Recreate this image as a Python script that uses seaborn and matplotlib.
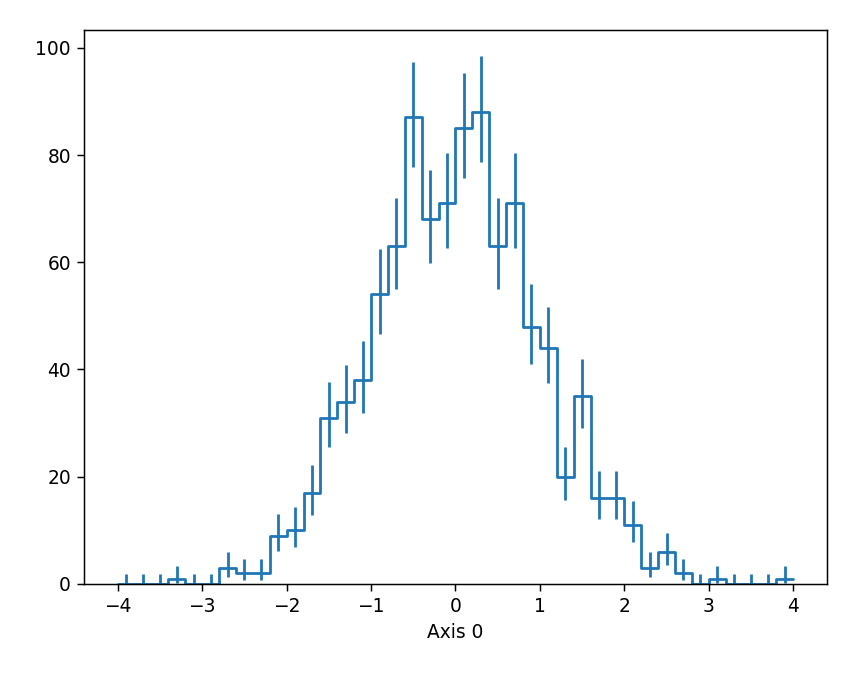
import matplotlib
matplotlib.use("Agg")
import matplotlib.pyplot as plt
import seaborn as sns
import numpy as np
import math

# histogram: 40 bins of width 0.2 from -4 to 4
edges = np.linspace(-4, 4, 41)
counts = [0, 0, 0, 1, 0, 0, 3, 2, 2, 9,
          10, 17, 31, 34, 38, 54, 63, 87, 68, 71,
          85, 88, 63, 71, 48, 44, 20, 35, 16, 16,
          11, 3, 6, 2, 0, 1, 0, 0, 0, 1]
xlabel = "Axis 0"


def pois_cdf(k, mu):
    if k < 0:
        return 0.0
    s, term = 0.0, math.exp(-mu)
    for i in range(k + 1):
        s += term
        term *= mu / (i + 1)
    return s


def solve(f, target, lo, hi):
    # bisection, f decreasing in mu
    for _ in range(80):
        mid = 0.5 * (lo + hi)
        if f(mid) > target:
            lo = mid
        else:
            hi = mid
    return 0.5 * (lo + hi)


def poisson_interval(n, cl=0.682689):
    a = (1 - cl) / 2
    hi = solve(lambda m: pois_cdf(n, m), a, 0.0, n + 50.0)
    lo = 0.0 if n == 0 else solve(lambda m: pois_cdf(n - 1, m), 1 - a, 0.0, n + 50.0)
    return lo, hi


sns.set_style("ticks")
plt.rcParams["font.family"] = ["DejaVu Sans"]
plt.rcParams["font.size"] = 13.4

fig = plt.figure(figsize=(8.57, 6.79), dpi=100)
ax = fig.add_axes([0.098, 0.14, 0.867, 0.816])

centers = 0.5 * (edges[:-1] + edges[1:])
sns.histplot(x=centers, weights=counts, binwidth=0.2, binrange=(-4, 4),
             element="step", fill=False, color="#1f77b4", linewidth=2, ax=ax)

intervals = [poisson_interval(n) for n in counts]
lows = [lo for lo, hi in intervals]
highs = [hi for lo, hi in intervals]
ax.vlines(centers, lows, highs, color="#1f77b4", linewidth=2)

ax.margins(x=0.05, y=0.05)
ax.autoscale_view()
ax.set_ylim(bottom=0)
ax.set_xticks(range(-4, 5))
ax.set_yticks(range(0, 101, 20))
ax.set_xlabel(xlabel, fontsize=13.4, color="black", labelpad=5.4)
ax.set_ylabel("")
for s in ax.spines.values():
    s.set_visible(True)
    s.set_color("black")
    s.set_linewidth(1.07)
ax.tick_params(colors="black", labelcolor="black", length=4.7, width=1.07,
               pad=4.7, labelsize=13.4)

fig.savefig("out.png", dpi=100)
